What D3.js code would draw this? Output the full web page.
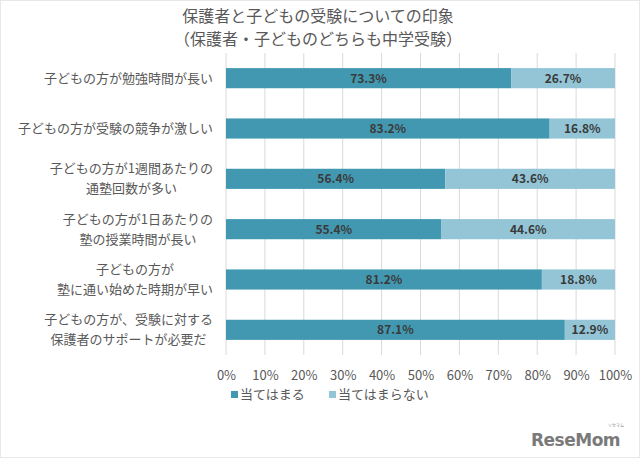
<!DOCTYPE html>
<html><head><meta charset="utf-8">
<script src="https://cdn.jsdelivr.net/npm/d3@7"></script>
<style>body{margin:0;background:#fff}svg{display:block}</style>
</head><body><svg id="c" width="640" height="458"></svg>
<script>
const categories = [
  ["子どもの方が勉強時間が長い"],
  ["子どもの方が受験の競争が激しい"],
  ["子どもの方が1週間あたりの","通塾回数が多い"],
  ["子どもの方が1日あたりの","塾の授業時間が長い"],
  ["子どもの方が","塾に通い始めた時期が早い"],
  ["子どもの方が、受験に対する","保護者のサポートが必要だ"]
];
const applies = [73.3, 83.2, 56.4, 55.4, 81.2, 87.1];
const notApplies = [26.7, 16.8, 43.6, 44.6, 18.8, 12.9];
const seriesNames = ["当てはまる", "当てはまらない"];
const tickValues = [0,10,20,30,40,50,60,70,80,90,100];
const titleLines = ["保護者と子どもの受験についての印象", "（保護者・子どものどちらも中学受験）"];
const colors = ["#4298b0", "#93c5d7"];

const svg = d3.select("#c");
const font = "'Noto Sans CJK JP', 'Noto Sans', sans-serif";
const x = d3.scaleLinear().domain([0,100]).range([226, 615]);
const y = d3.scaleBand().domain(d3.range(categories.length)).range([53, 355]).paddingInner(0.6).paddingOuter(0.3);

svg.append("rect").attr("x",0.5).attr("y",0.5).attr("width",639).attr("height",457).attr("fill","none").attr("stroke","#e8e8e8");

svg.selectAll("text.title").data(titleLines).join("text")
  .attr("x", 318).attr("y",(d,i)=>22+i*23).attr("text-anchor","middle")
  .attr("font-family",font).attr("font-size",16).attr("fill","#595959").text(d=>d);

// grid
svg.append("g").selectAll("line").data(tickValues).join("line")
  .attr("x1",d=>x(d)).attr("x2",d=>x(d)).attr("y1",53).attr("y2",355)
  .attr("stroke","#d9d9d9").attr("stroke-width",1);

const ax = svg.append("g").attr("transform","translate(0,368)")
  .call(d3.axisBottom(x).tickValues(tickValues).tickFormat(d=>d+"%").tickSize(0));
ax.select(".domain").remove();
ax.selectAll("text").attr("font-family",font).attr("font-size",13).attr("fill","#595959");

const stacked = categories.map((c,i)=>({i, a:applies[i], b:notApplies[i]}));
const bh = y.bandwidth();
const g = svg.append("g");
g.selectAll("rect.a").data(stacked).join("rect")
  .attr("x",x(0)).attr("y",d=>y(d.i)).attr("width",d=>x(d.a)-x(0)).attr("height",bh).attr("fill",colors[0]);
g.selectAll("rect.b").data(stacked).join("rect")
  .attr("x",d=>x(d.a)).attr("y",d=>y(d.i)).attr("width",d=>x(d.a+d.b)-x(d.a)).attr("height",bh).attr("fill",colors[1]);
g.selectAll("text.a").data(stacked).join("text")
  .attr("x",d=>(x(0)+x(d.a))/2).attr("y",d=>y(d.i)+bh/2+4.5).attr("text-anchor","middle")
  .attr("font-family",font).attr("font-size",12).attr("font-weight","bold").attr("fill","#3a3a3a").text(d=>d.a.toFixed(1)+"%");
g.selectAll("text.b").data(stacked).join("text")
  .attr("x",d=>(x(d.a)+x(d.a+d.b))/2).attr("y",d=>y(d.i)+bh/2+4.5).attr("text-anchor","middle")
  .attr("font-family",font).attr("font-size",12).attr("font-weight","bold").attr("fill","#3a3a3a").text(d=>d.b.toFixed(1)+"%");

// category labels: each block centred, right edge of widest line at 213
categories.forEach((lines,i)=>{
  const cy = y(i)+bh/2;
  const t = svg.append("text").attr("text-anchor","middle").attr("font-family",font).attr("font-size",13).attr("fill","#595959");
  const spans = lines.map((l,j)=>t.append("tspan").attr("y",cy + 4.5 + (j-(lines.length-1)/2)*20).text(l));
  const maxW = d3.max(spans, s=>s.node().getComputedTextLength());
  const cx = 213 - maxW/2;
  spans.forEach(s=>s.attr("x",cx));
});

// legend
const lg = svg.append("g");
const lx = [231, 329];
seriesNames.forEach((s,i)=>{
  lg.append("rect").attr("x",lx[i]).attr("y",391).attr("width",7).attr("height",7).attr("fill",colors[i]);
  lg.append("text").attr("x",lx[i]+9).attr("y",399).attr("font-family",font).attr("font-size",13).attr("fill","#595959").text(s);
});

// watermark
svg.append("text").attr("x",531).attr("y",446).attr("font-family","'DejaVu Sans', sans-serif").attr("font-weight","bold")
  .attr("font-size",17).attr("fill","#7a7a7a").attr("letter-spacing",-0.5).text("ReseMom");
svg.append("text").attr("x",608).attr("y",427).attr("font-family",font).attr("font-size",4).attr("fill","#888").text("リセマム");
</script></body></html>
